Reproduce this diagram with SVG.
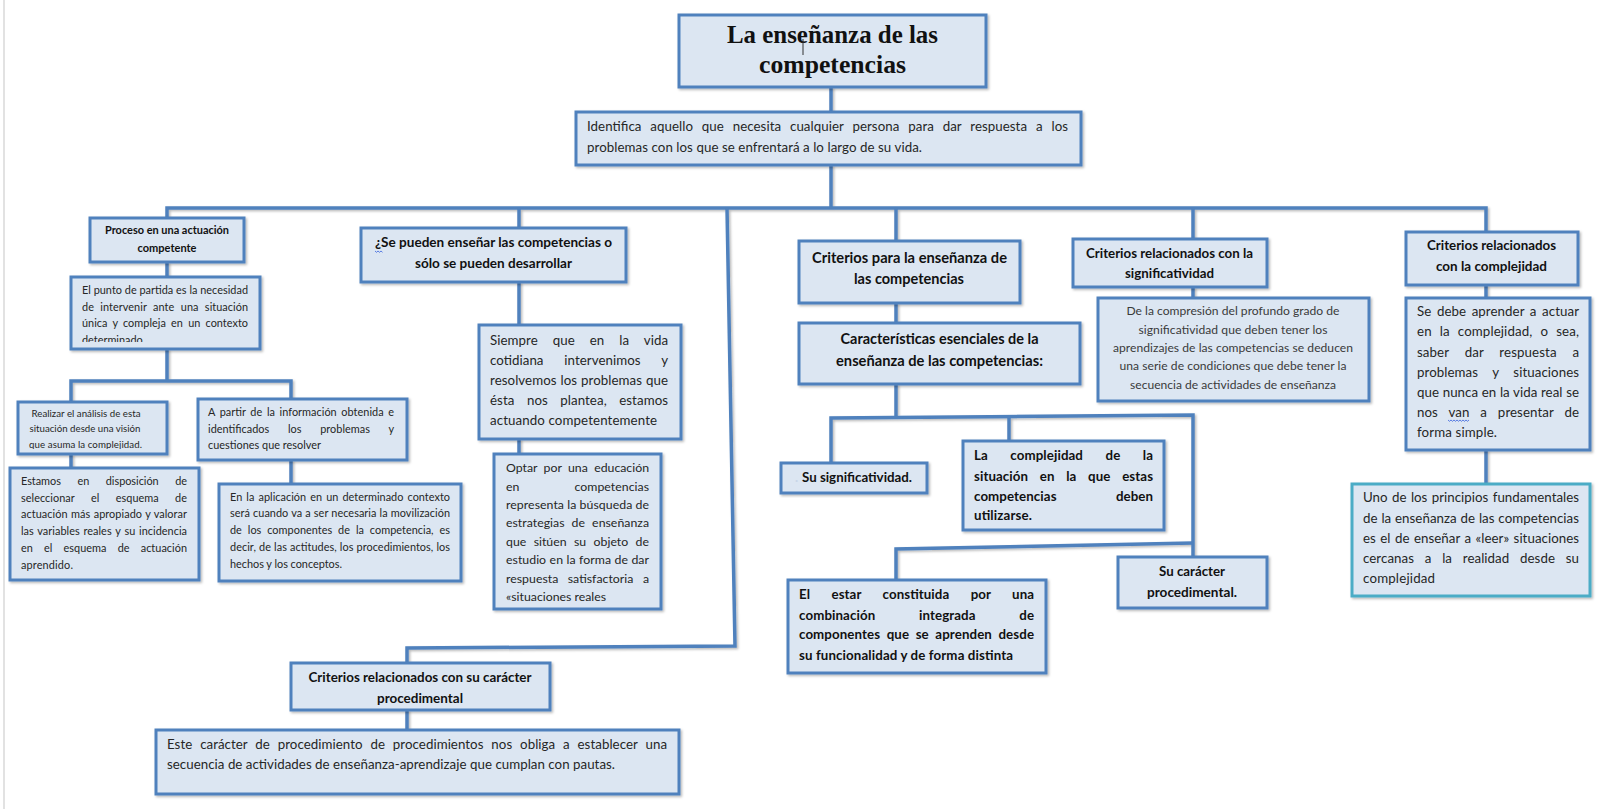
<svg xmlns="http://www.w3.org/2000/svg" width="1600" height="809" viewBox="0 0 1600 809">
<defs>
<style>
.box{fill:#dce6f2;stroke:#4f81bd;stroke-width:3}
.box2{fill:#dce6f2;stroke:#4bacc6;stroke-width:3}
.con{fill:none;stroke:#4f81bd;stroke-width:3.5;stroke-linejoin:miter}
.r{font-family:Lato,'Liberation Sans',sans-serif;fill:#262626}
.g{font-family:Lato,'Liberation Sans',sans-serif;fill:#3a3a3a}
.b{font-family:Lato,'Liberation Sans',sans-serif;font-weight:700;fill:#111}
.title{font-family:'Liberation Serif',serif;font-weight:700;font-size:25px;fill:#111}
.f97{font-size:9.7px}.f109{font-size:10.9px}.f121{font-size:12.1px}.f123{font-size:12.3px}.f133{font-size:13.3px}.f144{font-size:14.4px}
.sq{fill:none;stroke:#4a6fe0;stroke-width:0.9}
</style>
<filter id="sh" x="-5%" y="-5%" width="110%" height="120%">
<feDropShadow dx="1.5" dy="1.5" stdDeviation="1.2" flood-color="#000" flood-opacity="0.28"/>
</filter>
<clipPath id="clipPunto"><rect x="71" y="277" width="189" height="65"/></clipPath>
<clipPath id="clipReal"><rect x="18" y="402" width="149" height="47"/></clipPath>
</defs>
<rect x="0" y="0" width="1600" height="809" fill="#ffffff"/>
<line x1="4" y1="0" x2="4" y2="809" stroke="#d9d9d9" stroke-width="1.5"/>

<g id="connectors" filter="url(#sh)">
<path class="con" d="M831,87 V112"/>
<path class="con" d="M831,165 V208"/>
<path class="con" d="M167,218 V208 H1486 V232"/>
<path class="con" d="M519,208 V228"/>
<path class="con" d="M896,208 V241"/>
<path class="con" d="M1193,208 V239"/>
<path class="con" d="M727,208 L735,646 L407,648 V663"/>
<path class="con" d="M167,262 V277"/>
<path class="con" d="M167,349 V381"/>
<path class="con" d="M71,402 V381 H291 V399"/>
<path class="con" d="M71,454 V468"/>
<path class="con" d="M291,460 V484"/>
<path class="con" d="M519,282 V325"/>
<path class="con" d="M519,439 V454"/>
<path class="con" d="M407,710 V730"/>
<path class="con" d="M896,303 V323"/>
<path class="con" d="M896,384 V417"/>
<path class="con" d="M831,463 V418 L1193,415 V557"/>
<path class="con" d="M1009,417 V441"/>
<path class="con" d="M1193,543 L896,549 V580"/>
<path class="con" d="M1193,287 V298"/>
<path class="con" d="M1486,285 V298"/>
<path class="con" d="M1486,450 V484"/>
</g>

<g id="n-title">
<rect class="box" x="679" y="15" width="307" height="72" filter="url(#sh)"/>
<text class="title" x="832.5" y="43" text-anchor="middle" textLength="211" lengthAdjust="spacingAndGlyphs">La enseñanza de las</text>
<text class="title" x="832.5" y="73" text-anchor="middle" textLength="147" lengthAdjust="spacingAndGlyphs">competencias</text>
<line x1="803" y1="39" x2="803" y2="55" stroke="#333" stroke-width="1"/>
</g>

<g id="n-identifica">
<rect class="box" x="576" y="112" width="505" height="53" filter="url(#sh)"/>
<text class="r f133" x="587" y="131" textLength="481" lengthAdjust="spacing" word-spacing="5.4">Identifica aquello que necesita cualquier persona para dar respuesta a los</text>
<text class="r f133" x="587" y="152" textLength="335" lengthAdjust="spacing">problemas con los que se enfrentará a lo largo de su vida.</text>
</g>

<g id="n-proceso">
<rect class="box" x="90" y="218" width="154" height="44" filter="url(#sh)"/>
<text class="b f109" x="167" y="234" text-anchor="middle" textLength="124" lengthAdjust="spacingAndGlyphs">Proceso en una actuación</text>
<text class="b f109" x="167" y="252" text-anchor="middle" textLength="59" lengthAdjust="spacingAndGlyphs">competente</text>
</g>

<g id="n-punto">
<rect class="box" x="71" y="277" width="189" height="72" filter="url(#sh)"/>
<text class="r f109" x="82" y="294" textLength="166" lengthAdjust="spacing">El punto de partida es la necesidad</text>
<text class="r f109" x="82" y="311" textLength="166" lengthAdjust="spacing" word-spacing="3.6">de intervenir ante una situación</text>
<text class="r f109" x="82" y="327" textLength="166" lengthAdjust="spacing" word-spacing="2.4">única y compleja en un contexto</text>
<text class="r f109" x="82" y="344" clip-path="url(#clipPunto)">determinado</text>
</g>

<g id="n-realizar">
<rect class="box" x="18" y="402" width="149" height="52" filter="url(#sh)"/>
<text class="r f97" x="86" y="417" text-anchor="middle" textLength="109" lengthAdjust="spacing">Realizar el análisis de esta</text>
<text class="r f97" x="85" y="432" text-anchor="middle" textLength="111" lengthAdjust="spacing">situación desde una visión</text>
<text class="r f97" x="85.5" y="448" text-anchor="middle" textLength="113" lengthAdjust="spacing" clip-path="url(#clipReal)">que asuma la complejidad.</text>
</g>

<g id="n-estamos">
<rect class="box" x="10" y="468" width="189" height="112" filter="url(#sh)"/>
<text class="r f109" x="21" y="485" textLength="166" lengthAdjust="spacing" word-spacing="13.8">Estamos en disposición de</text>
<text class="r f109" x="21" y="502" textLength="166" lengthAdjust="spacing" word-spacing="13.5">seleccionar el esquema de</text>
<text class="r f109" x="21" y="518" textLength="166" lengthAdjust="spacing" word-spacing="0.5">actuación más apropiado y valorar</text>
<text class="r f109" x="21" y="535" textLength="166" lengthAdjust="spacing" word-spacing="1">las variables reales y su incidencia</text>
<text class="r f109" x="21" y="552" textLength="166" lengthAdjust="spacing" word-spacing="8.3">en el esquema de actuación</text>
<text class="r f109" x="21" y="569" textLength="52" lengthAdjust="spacing">aprendido.</text>
</g>

<g id="n-apartir">
<rect class="box" x="198" y="399" width="209" height="61" filter="url(#sh)"/>
<text class="r f109" x="208" y="416" textLength="186" lengthAdjust="spacing" word-spacing="1.8">A partir de la información obtenida e</text>
<text class="r f109" x="208" y="433" textLength="186" lengthAdjust="spacing" word-spacing="15.9">identificados los problemas y</text>
<text class="r f109" x="208" y="449" textLength="113" lengthAdjust="spacing">cuestiones que resolver</text>
</g>

<g id="n-aplicacion">
<rect class="box" x="219" y="484" width="242" height="97" filter="url(#sh)"/>
<text class="r f109" x="230" y="501" textLength="220" lengthAdjust="spacing" word-spacing="1.3">En la aplicación en un determinado contexto</text>
<text class="r f109" x="230" y="517" textLength="220" lengthAdjust="spacing" word-spacing="0.3">será cuando va a ser necesaria la movilización</text>
<text class="r f109" x="230" y="534" textLength="220" lengthAdjust="spacing" word-spacing="3.1">de los componentes de la competencia, es</text>
<text class="r f109" x="230" y="551" textLength="220" lengthAdjust="spacing" word-spacing="0.3">decir, de las actitudes, los procedimientos, los</text>
<text class="r f109" x="230" y="568" textLength="112" lengthAdjust="spacing">hechos y los conceptos.</text>
</g>

<g id="n-sepueden">
<rect class="box" x="361" y="228" width="265" height="54" filter="url(#sh)"/>
<text class="b f133" x="493.5" y="247" text-anchor="middle" textLength="237" lengthAdjust="spacingAndGlyphs">¿Se pueden enseñar las competencias o</text>
<text class="b f133" x="493.5" y="268" text-anchor="middle" textLength="157" lengthAdjust="spacingAndGlyphs">sólo se pueden desarrollar</text>
<path class="sq" d="M375,251 l1.5,1.3 l1.5,-1.3 l1.5,1.3 l1.5,-1.3 l1.5,1.3"/>
</g>

<g id="n-siempre">
<rect class="box" x="479" y="325" width="202" height="114" filter="url(#sh)"/>
<text class="r f133" x="490" y="345" textLength="178" lengthAdjust="spacing" word-spacing="11.5">Siempre que en la vida</text>
<text class="r f133" x="490" y="365" textLength="178" lengthAdjust="spacing" word-spacing="17.4">cotidiana intervenimos y</text>
<text class="r f133" x="490" y="385" textLength="178" lengthAdjust="spacing" word-spacing="0.4">resolvemos los problemas que</text>
<text class="r f133" x="490" y="405" textLength="178" lengthAdjust="spacing" word-spacing="9">ésta nos plantea, estamos</text>
<text class="r f133" x="490" y="425" textLength="167" lengthAdjust="spacing">actuando competentemente</text>
</g>

<g id="n-optar">
<rect class="box" x="494" y="454" width="167" height="155" filter="url(#sh)"/>
<text class="r f123" x="506" y="472" textLength="143" lengthAdjust="spacing" word-spacing="3.2">Optar por una educación</text>
<text class="r f123" x="506" y="491" textLength="143" lengthAdjust="spacing" word-spacing="51.9">en competencias</text>
<text class="r f123" x="506" y="509" textLength="143" lengthAdjust="spacing">representa la búsqueda de</text>
<text class="r f123" x="506" y="527" textLength="143" lengthAdjust="spacing" word-spacing="3.9">estrategias de enseñanza</text>
<text class="r f123" x="506" y="546" textLength="143" lengthAdjust="spacing" word-spacing="4.2">que sitúen su objeto de</text>
<text class="r f123" x="506" y="564" textLength="143" lengthAdjust="spacing" word-spacing="0.3">estudio en la forma de dar</text>
<text class="r f123" x="506" y="583" textLength="143" lengthAdjust="spacing" word-spacing="6.3">respuesta satisfactoria a</text>
<text class="r f123" x="506" y="601" textLength="100" lengthAdjust="spacing">«situaciones reales</text>
</g>

<g id="n-critproc">
<rect class="box" x="291" y="663" width="259" height="47" filter="url(#sh)"/>
<text class="b f133" x="420" y="682" text-anchor="middle" textLength="223" lengthAdjust="spacingAndGlyphs">Criterios relacionados con su carácter</text>
<text class="b f133" x="420" y="703" text-anchor="middle" textLength="86" lengthAdjust="spacingAndGlyphs">procedimental</text>
</g>

<g id="n-este">
<rect class="box" x="156" y="730" width="523" height="64" filter="url(#sh)"/>
<text class="r f133" x="167" y="749" textLength="500" lengthAdjust="spacing" word-spacing="4.4">Este carácter de procedimiento de procedimientos nos obliga a establecer una</text>
<text class="r f133" x="167" y="769" textLength="448" lengthAdjust="spacing">secuencia de actividades de enseñanza-aprendizaje que cumplan con pautas.</text>
</g>

<g id="n-critpara">
<rect class="box" x="799" y="241" width="221" height="62" filter="url(#sh)"/>
<text class="b f144" x="909.5" y="263" text-anchor="middle" textLength="195" lengthAdjust="spacingAndGlyphs">Criterios para la enseñanza de</text>
<text class="b f144" x="909" y="284" text-anchor="middle" textLength="110" lengthAdjust="spacingAndGlyphs">las competencias</text>
</g>

<g id="n-caracteristicas">
<rect class="box" x="799" y="323" width="281" height="61" filter="url(#sh)"/>
<text class="b f144" x="939.5" y="344" text-anchor="middle" textLength="198" lengthAdjust="spacingAndGlyphs">Características esenciales de la</text>
<text class="b f144" x="939.5" y="366" text-anchor="middle" textLength="207" lengthAdjust="spacingAndGlyphs">enseñanza de las competencias:</text>
</g>

<g id="n-susignif">
<rect class="box" x="781" y="463" width="146" height="30" filter="url(#sh)"/>
<text class="b f133" x="795" y="482" style="fill:#c9d6e8">.</text>
<text class="b f133" x="802" y="482" textLength="110" lengthAdjust="spacingAndGlyphs">Su significatividad.</text>
</g>

<g id="n-complejidad">
<rect class="box" x="963" y="441" width="201" height="89" filter="url(#sh)"/>
<text class="b f133" x="974" y="460" textLength="179" lengthAdjust="spacing" word-spacing="19.2">La complejidad de la</text>
<text class="b f133" x="974" y="481" textLength="179" lengthAdjust="spacing" word-spacing="8.4">situación en la que estas</text>
<text class="b f133" x="974" y="501" textLength="179" lengthAdjust="spacing" word-spacing="56">competencias deben</text>
<text class="b f133" x="974" y="520" textLength="58" lengthAdjust="spacing">utilizarse.</text>
</g>

<g id="n-elestar">
<rect class="box" x="788" y="580" width="258" height="93" filter="url(#sh)"/>
<text class="b f133" x="799" y="599" textLength="235" lengthAdjust="spacing" word-spacing="18.1">El estar constituida por una</text>
<text class="b f133" x="799" y="620" textLength="235" lengthAdjust="spacing" word-spacing="40.3">combinación integrada de</text>
<text class="b f133" x="799" y="639" textLength="235" lengthAdjust="spacing" word-spacing="3.2">componentes que se aprenden desde</text>
<text class="b f133" x="799" y="660" textLength="214" lengthAdjust="spacing">su funcionalidad y de forma distinta</text>
</g>

<g id="n-sucaracter">
<rect class="box" x="1118" y="557" width="149" height="51" filter="url(#sh)"/>
<text class="b f133" x="1192" y="576" text-anchor="middle" textLength="66" lengthAdjust="spacingAndGlyphs">Su carácter</text>
<text class="b f133" x="1192" y="597" text-anchor="middle" textLength="90" lengthAdjust="spacingAndGlyphs">procedimental.</text>
</g>

<g id="n-critsignif">
<rect class="box" x="1073" y="239" width="194" height="48" filter="url(#sh)"/>
<text class="b f133" x="1169.5" y="258" text-anchor="middle" textLength="167" lengthAdjust="spacingAndGlyphs">Criterios relacionados con la</text>
<text class="b f133" x="1169.5" y="278" text-anchor="middle" textLength="89" lengthAdjust="spacingAndGlyphs">significatividad</text>
</g>

<g id="n-compresion">
<rect class="box" x="1098" y="298" width="271" height="103" filter="url(#sh)"/>
<text class="g f121" x="1233" y="315" text-anchor="middle" textLength="213" lengthAdjust="spacing">De la compresión del profundo grado de</text>
<text class="g f121" x="1233" y="334" text-anchor="middle" textLength="189" lengthAdjust="spacing">significatividad que deben tener los</text>
<text class="g f121" x="1233" y="352" text-anchor="middle" textLength="240" lengthAdjust="spacing">aprendizajes de las competencias se deducen</text>
<text class="g f121" x="1233" y="370" text-anchor="middle" textLength="227" lengthAdjust="spacing">una serie de condiciones que debe tener la</text>
<text class="g f121" x="1233" y="389" text-anchor="middle" textLength="206" lengthAdjust="spacing">secuencia de actividades de enseñanza</text>
</g>

<g id="n-critcomplej">
<rect class="box" x="1406" y="232" width="172" height="53" filter="url(#sh)"/>
<text class="b f133" x="1491.5" y="250" text-anchor="middle" textLength="129" lengthAdjust="spacingAndGlyphs">Criterios relacionados</text>
<text class="b f133" x="1491.5" y="271" text-anchor="middle" textLength="111" lengthAdjust="spacingAndGlyphs">con la complejidad</text>
</g>

<g id="n-sedebe">
<rect class="box" x="1406" y="298" width="184" height="152" filter="url(#sh)"/>
<text class="r f133" x="1417" y="316" textLength="162" lengthAdjust="spacing" word-spacing="2.1">Se debe aprender a actuar</text>
<text class="r f133" x="1417" y="336" textLength="162" lengthAdjust="spacing" word-spacing="4.6">en la complejidad, o sea,</text>
<text class="r f133" x="1417" y="357" textLength="162" lengthAdjust="spacing" word-spacing="12.3">saber dar respuesta a</text>
<text class="r f133" x="1417" y="377" textLength="162" lengthAdjust="spacing" word-spacing="11.1">problemas y situaciones</text>
<text class="r f133" x="1417" y="397" textLength="162" lengthAdjust="spacing" word-spacing="0.2">que nunca en la vida real se</text>
<text class="r f133" x="1417" y="417" textLength="162" lengthAdjust="spacing" word-spacing="7.4">nos van a presentar de</text>
<text class="r f133" x="1417" y="437" textLength="80" lengthAdjust="spacing">forma simple.</text>
<path class="sq" d="M1448,420 l1.5,1.3 l1.5,-1.3 l1.5,1.3 l1.5,-1.3 l1.5,1.3 l1.5,-1.3 l1.5,1.3 l1.5,-1.3 l1.5,1.3 l1.5,-1.3 l1.5,1.3 l1.5,-1.3 l1.5,1.3 l1.5,-1.3"/>
</g>

<g id="n-uno">
<rect class="box2" x="1352" y="484" width="238" height="112" filter="url(#sh)"/>
<text class="r f133" x="1363" y="502" textLength="216" lengthAdjust="spacing" word-spacing="1">Uno de los principios fundamentales</text>
<text class="r f133" x="1363" y="523" textLength="216" lengthAdjust="spacing" word-spacing="0.4">de la enseñanza de las competencias</text>
<text class="r f133" x="1363" y="543" textLength="216" lengthAdjust="spacing" word-spacing="1">es el de enseñar a «leer» situaciones</text>
<text class="r f133" x="1363" y="563" textLength="216" lengthAdjust="spacing" word-spacing="7.3">cercanas a la realidad desde su</text>
<text class="r f133" x="1363" y="583" textLength="72" lengthAdjust="spacing">complejidad</text>
</g>
</svg>
